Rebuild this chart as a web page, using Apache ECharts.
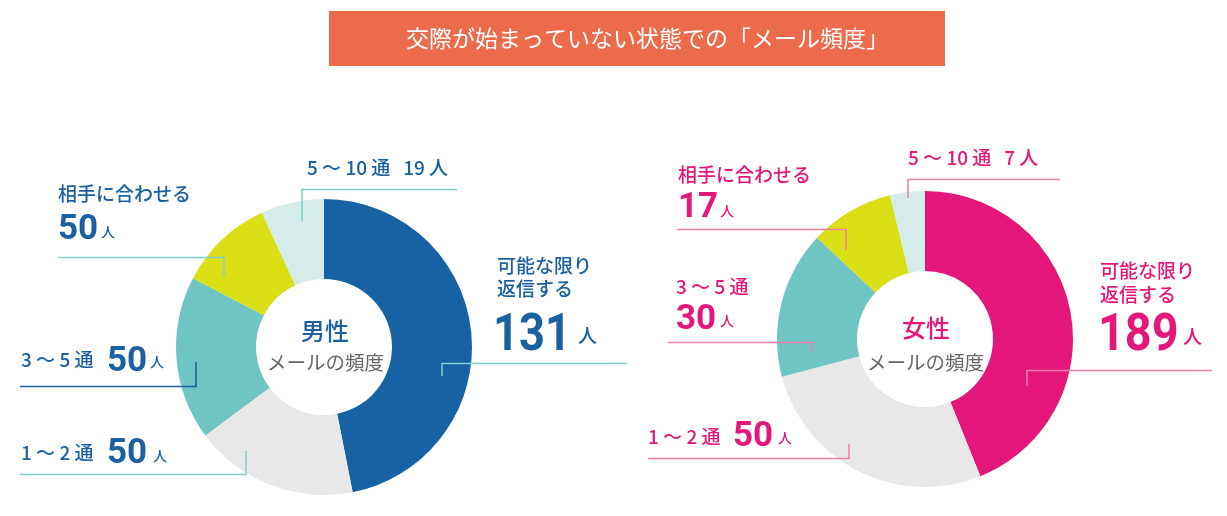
<!DOCTYPE html>
<html><head><meta charset="utf-8">
<script src="https://cdn.jsdelivr.net/npm/echarts@6/dist/echarts.min.js"></script>
<style>html,body{margin:0;padding:0;background:#fff}#c{width:1227px;height:516px}</style>
</head><body><div id="c"></div>
<script>
// ---- data ----
const title = '交際が始まっていない状態での「メール頻度」';
const categories = ['可能な限り返信する', '1〜2通', '3〜5通', '相手に合わせる', '5〜10通'];
const maleCounts = [131, 50, 50, 50, 19];
const femaleCounts = [189, 50, 30, 17, 7];
// share of the ring as drawn in the reference (%)
const maleShares = [46.9, 17.9, 17.9, 10.4, 6.9];
const femaleShares = [43.9, 27.0, 16.1, 9.2, 3.8];
const maleCenterLabel = '男性';
const femaleCenterLabel = '女性';
const subLabel = 'メールの頻度';
const unit = '人';

// ---- styles ----
const JP = '"Noto Sans CJK JP", "Noto Sans", sans-serif';
const NUM = 'Roboto, "Noto Sans", sans-serif';
const BLUE = '#1662a2', PINK = '#e4167a';
const BLUE_TXT = '#1b60a0', PINK_TXT = '#e4177a';
const TEAL_LINE = '#7ecfcb', PINK_LINE = '#f17fab';
const maleColors = [BLUE, '#e8e8e8', '#6ec5c1', '#d9df14', '#d5ecea'];
const femaleColors = [PINK, '#e8e8e8', '#6ec5c1', '#d9df14', '#d5ecea'];

function pieSeries(shares, colors, center) {
  return {
    type: 'pie', center: center, radius: [68, 148], startAngle: 90, clockwise: true, z: 1,
    silent: true, label: {show: false}, labelLine: {show: false},
    itemStyle: {borderWidth: 0},
    data: categories.map((c, i) => ({name: c, value: shares[i], itemStyle: {color: colors[i]}}))
  };
}

function txt(x, y, text, fill, font, sx) {
  return {type: 'text', x: x, y: y, z: 100, silent: true, scaleX: sx || 1,
    style: {text: text, fill: fill, font: font, align: 'left', verticalAlign: 'middle', textAlign: 'left', textVerticalAlign: 'middle'}};
}
function line(pts, color) {
  return {type: 'polyline', z: 100, silent: true, shape: {points: pts},
    style: {stroke: color, lineWidth: 1.5, fill: null}};
}
const small = '500 19px ' + JP;
const unitS = '500 14px ' + JP;
const unitL = '500 19px ' + JP;
const numM = 'bold 35px ' + NUM;
const numL = 'bold 52px ' + NUM;

const rangeLabel = s => s.replace(/〜/, ' 〜 ').replace(/(\d)(通)/, '$1 $2');

const g = [];
// title
g.push({type: 'rect', z: 100, silent: true, shape: {x: 329, y: 11, width: 616, height: 55}, style: {fill: '#ec6b4b'}});
g.push(txt(406, 38.5, title, '#ffffff', '400 23px ' + JP));

// ---- male ----
g.push(txt(301, 331, maleCenterLabel, BLUE_TXT, '500 24px ' + JP));
g.push(txt(267, 363, subLabel, '#666666', '400 19.5px ' + JP));
// 5〜10通
g.push(txt(307, 168, rangeLabel(categories[4]) + '   ' + maleCounts[4] + ' ' + unit, BLUE_TXT, small));
g.push(line([[457, 189.5], [302, 189.5], [302, 221]], TEAL_LINE));
// 相手に合わせる
g.push(txt(58, 194, categories[3], BLUE_TXT, small));
g.push(txt(58, 230, String(maleCounts[3]), BLUE_TXT, numM));
g.push(txt(101, 232, unit, BLUE_TXT, unitS));
g.push(line([[58, 257.5], [224, 257.5], [224, 277]], TEAL_LINE));
// 3〜5通
g.push(txt(21, 360, rangeLabel(categories[2]), BLUE_TXT, small));
g.push(txt(107, 362, String(maleCounts[2]), BLUE_TXT, numM));
g.push(txt(150, 362, unit, BLUE_TXT, unitS));
g.push(line([[20, 386.5], [196, 386.5], [196, 362]], BLUE));
// 1〜2通
g.push(txt(21, 453, rangeLabel(categories[1]), BLUE_TXT, small));
g.push(txt(107, 454, String(maleCounts[1]), BLUE_TXT, numM));
g.push(txt(153, 456, unit, BLUE_TXT, unitS));
g.push(line([[20, 474.5], [246, 474.5], [246, 451]], TEAL_LINE));
// 可能な限り返信する
g.push(txt(497, 266, categories[0].slice(0, 5), BLUE_TXT, small));
g.push(txt(497, 289, categories[0].slice(5), BLUE_TXT, small));
g.push(txt(493, 337, String(maleCounts[0]), BLUE_TXT, numL, 0.87));
g.push(txt(578, 336, unit, BLUE_TXT, unitL));
g.push(line([[627, 363.5], [442, 363.5], [442, 376]], TEAL_LINE));

// ---- female ----
g.push(txt(902, 328, femaleCenterLabel, PINK_TXT, '500 24px ' + JP));
g.push(txt(867, 363, subLabel, '#666666', '400 19.5px ' + JP));
// 5〜10通
g.push(txt(908, 158, rangeLabel(categories[4]) + '   ' + femaleCounts[4] + ' ' + unit, PINK_TXT, small));
g.push(line([[1060, 179.5], [908, 179.5], [908, 198]], PINK_LINE));
// 相手に合わせる
g.push(txt(678, 175, categories[3], PINK_TXT, small));
g.push(txt(678, 208, String(femaleCounts[3]), PINK_TXT, numM));
g.push(txt(720, 211, unit, PINK_TXT, unitS));
g.push(line([[677, 229.5], [846, 229.5], [846, 250]], PINK_LINE));
// 3〜5通
g.push(txt(676, 287, rangeLabel(categories[2]), PINK_TXT, small));
g.push(txt(676, 320, String(femaleCounts[2]), PINK_TXT, numM));
g.push(txt(720, 321, unit, PINK_TXT, unitS));
g.push(line([[668, 342.5], [812, 342.5], [812, 352]], PINK_LINE));
// 1〜2通
g.push(txt(648, 437, rangeLabel(categories[1]), PINK_TXT, small));
g.push(txt(733, 437, String(femaleCounts[1]), PINK_TXT, numM));
g.push(txt(778, 438, unit, PINK_TXT, unitS));
g.push(line([[648, 458.5], [849, 458.5], [849, 444]], PINK_LINE));
// 可能な限り返信する
g.push(txt(1100, 271, categories[0].slice(0, 5), PINK_TXT, small));
g.push(txt(1100, 295, categories[0].slice(5), PINK_TXT, small));
g.push(txt(1098, 337, String(femaleCounts[0]), PINK_TXT, numL, 0.9));
g.push(txt(1183, 337, unit, PINK_TXT, unitL));
g.push(line([[1212, 370.5], [1027, 370.5], [1027, 386]], PINK_LINE));

const chart = echarts.init(document.getElementById('c'), null, {renderer: 'canvas'});
chart.setOption({
  animation: false,
  backgroundColor: '#ffffff',
  series: [
    pieSeries(maleShares, maleColors, [324, 347]),
    pieSeries(femaleShares, femaleColors, [925, 339])
  ],
  graphic: g
});
</script></body></html>
